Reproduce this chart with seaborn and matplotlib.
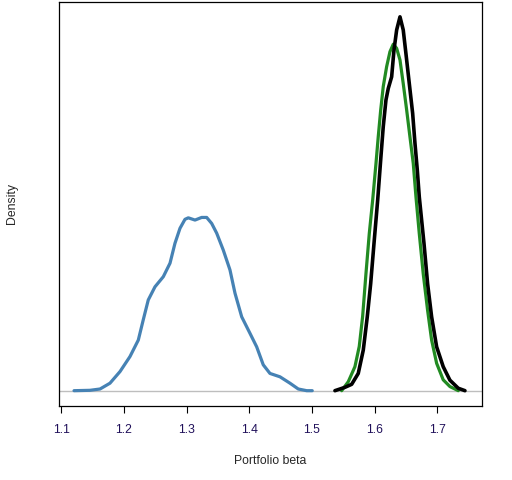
import matplotlib
matplotlib.use("Agg")
import matplotlib.pyplot as plt
import seaborn as sns
import pandas as pd

# Blue curve (around beta 1.3)
blue_x = [1.1203, 1.1458, 1.1618, 1.1777, 1.1937, 1.2096, 1.2229, 1.2308, 1.2388,
          1.2495, 1.2628, 1.2735, 1.2814, 1.2894, 1.2974, 1.3027, 1.3134, 1.3240,
          1.3320, 1.3400, 1.3480, 1.3585, 1.3692, 1.3772, 1.3879, 1.4011, 1.4118,
          1.4223, 1.4330, 1.4490, 1.4649, 1.4782, 1.4916, 1.5005]
blue_y = [0.0, 0.1, 0.45, 2.0, 5.1, 9.1, 13.5, 18.9, 24.2, 27.7, 30.4, 34.0, 39.3,
          43.3, 45.7, 46.1, 45.5, 46.2, 46.2, 44.6, 42.0, 37.5, 32.2, 26.0, 19.7,
          15.3, 11.7, 6.9, 4.6, 3.7, 2.0, 0.45, 0.0, 0.0]

# Green curve
green_x = [1.5474, 1.5580, 1.5686, 1.5755, 1.5809, 1.5862, 1.5915, 1.5969, 1.6022,
           1.6058, 1.6097, 1.6138, 1.6192, 1.6245, 1.6298, 1.6352, 1.6405, 1.6457,
           1.6512, 1.6564, 1.6617, 1.6660, 1.6713, 1.6776, 1.6846, 1.6910, 1.6990,
           1.7095, 1.7202, 1.7335]
green_y = [0.0, 2.4, 6.4, 11.8, 19.8, 31.2, 41.9, 50.8, 60.6, 67.7, 74.8, 81.1,
           86.4, 90.4, 92.4, 91.3, 88.2, 81.9, 74.8, 67.7, 60.6, 51.7, 41.9, 31.2,
           21.4, 13.5, 7.3, 2.9, 1.1, 0.0]

# Black curve
black_x = [1.5367, 1.5527, 1.5634, 1.5739, 1.5819, 1.5883, 1.5937, 1.5994, 1.6049,
           1.6101, 1.6138, 1.6181, 1.6218, 1.6272, 1.6309, 1.6352, 1.6405, 1.6457,
           1.6500, 1.6553, 1.6607, 1.6644, 1.6681, 1.6713, 1.6788, 1.6846, 1.6910,
           1.6990, 1.7095, 1.7202, 1.7335, 1.7442]
black_y = [0.0, 0.9, 1.7, 4.6, 10.8, 19.7, 28.5, 40.0, 50.8, 62.4, 70.4, 77.5,
           80.6, 83.7, 90.8, 96.2, 99.7, 96.2, 89.9, 82.0, 74.0, 66.0, 58.9, 51.7,
           39.3, 28.5, 19.7, 11.7, 6.4, 2.8, 0.65, 0.0]

x_ticks = [1.1, 1.2, 1.3, 1.4, 1.5, 1.6, 1.7]
x_tick_labels = ["1.1", "1.2", "1.3", "1.4", "1.5", "1.6", "1.7"]

sns.set_style("white")
plt.rcParams['font.family'] = ['Liberation Sans', 'DejaVu Sans']

fig = plt.figure(figsize=(5.12, 4.80), dpi=100)
ax = fig.add_axes([0.1158, 0.1542, 0.9408 - 0.1158, 0.9958 - 0.1542])

ax.axhline(0, color="#BEBEBE", lw=1.0, zorder=1)

df_b = pd.DataFrame({"x": blue_x, "y": blue_y})
df_g = pd.DataFrame({"x": green_x, "y": green_y})
df_k = pd.DataFrame({"x": black_x, "y": black_y})
sns.lineplot(data=df_b, x="x", y="y", ax=ax, color="#4682B4", lw=2.3, sort=False, zorder=2)
sns.lineplot(data=df_g, x="x", y="y", ax=ax, color="#228B22", lw=2.3, sort=False, zorder=3)
sns.lineplot(data=df_k, x="x", y="y", ax=ax, color="black", lw=2.6, sort=False, zorder=4)

ax.set_xlim(1.0968, 1.7709)
ax.set_ylim(-4.08, 103.65)
ax.set_xticks(x_ticks)
ax.set_xticklabels(x_tick_labels, color="#20105A", fontsize=8.8)
ax.set_yticks([])
ax.tick_params(axis="x", bottom=True, length=5, width=0.8, color="black", pad=8)
for s in ax.spines.values():
    s.set_visible(True)
    s.set_color("black")
    s.set_linewidth(0.9)

ax.set_xlabel("Portfolio beta", fontsize=8.8, labelpad=14)
ax.set_ylabel("Density", fontsize=8.8, labelpad=30)

fig.savefig("out.png", dpi=100, facecolor="white")
